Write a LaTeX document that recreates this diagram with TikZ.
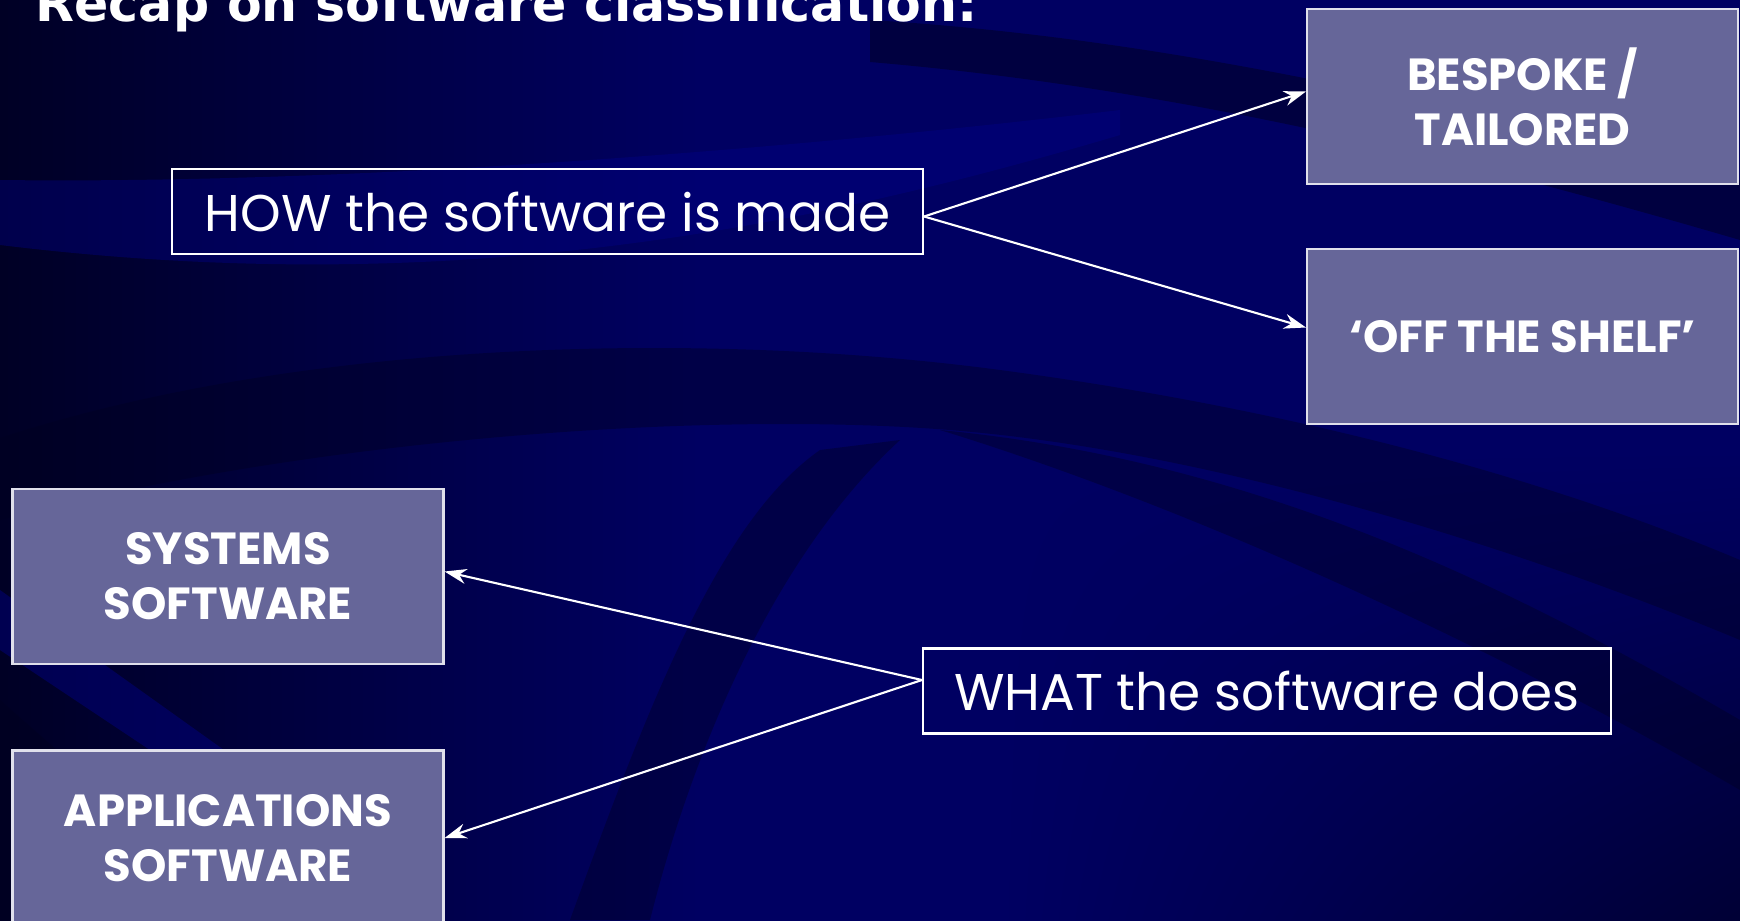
\documentclass[tikz,border=0pt]{standalone}
\usepackage{fontspec}
\setmainfont{Poppins}
\newfontfamily\headfont{DejaVu Sans}
\usetikzlibrary{arrows.meta,positioning,shapes,shadings,calc}
\definecolor{boxfill}{HTML}{666699}
\definecolor{navydark}{HTML}{000024}
\definecolor{navy}{HTML}{000062}
\definecolor{navylight}{HTML}{000088}
\definecolor{navydeep}{HTML}{000020}

\begin{document}
\begin{tikzpicture}[x=0.1mm,y=-0.1mm,
    solidbox/.style={rectangle, draw=white!80!boxfill, line width=0.6pt, fill=boxfill, text=white,
      font=\fontsize{12.8}{15.6}\selectfont\bfseries, align=center, minimum width=43.1mm, minimum height=17.5mm},
    plainbox/.style={rectangle, draw=white, line width=0.6pt, text=white,
      font=\fontsize{14.7}{17}\selectfont, align=center, minimum height=8.5mm},
    link/.style={draw=white, line width=0.6pt, -{Stealth[length=2.2mm,width=1.5mm]}}]
    % backdrop: navy slide with dark and light swooshes
    \useasboundingbox (0,0) rectangle (1740,920);
    \fill[navy] (-10,-10) rectangle (1750,930);
    \shade[left color=navydark, right color=navy] (-10,-10) rectangle (700,930);
    \shade[upper left=navy, upper right=navy, lower left=navy, lower right=navydeep!70!navy] (1000,450) rectangle (1750,930);
    \fill[navylight, opacity=0.4] (0,180) .. controls (400,185) and (870,140) .. (1120,110) -- (1120,135) .. controls (800,230) and (450,300) .. (0,245) -- cycle;
    \fill[navydeep, opacity=0.5] (870,20) .. controls (1200,40) and (1500,120) .. (1740,180) -- (1740,240) .. controls (1500,170) and (1200,90) .. (870,62) -- cycle;
    \fill[navydeep, opacity=0.4] (0,438) .. controls (300,340) and (700,330) .. (1000,370) .. controls (1300,410) and (1550,480) .. (1740,560) -- (1740,640) .. controls (1500,540) and (1200,450) .. (950,430) .. controls (700,410) and (300,440) .. (0,520) -- cycle;
    \fill[navydeep, opacity=0.4] (940,430) .. controls (1250,460) and (1500,580) .. (1740,720) -- (1740,790) .. controls (1500,650) and (1200,510) .. (940,430) -- cycle;
    \fill[navylight, opacity=0.45] (0,590) -- (0,650) -- (210,790) -- (280,790) -- cycle;
    \fill[navydeep, opacity=0.55] (0,700) -- (250,920) -- (0,920) -- cycle;
    \fill[navydeep, opacity=0.4] (570,920) .. controls (650,700) and (720,520) .. (820,450) -- (900,440) .. controls (770,560) and (690,760) .. (650,920) -- cycle;

    % heading
    \node (title) at (35,22) [anchor=base west, inner sep=0pt, text=white, font=\headfont\fontsize{14.4}{17}\selectfont\bfseries] {Recap on software classification:};

    % the two questions
    \node (how) at (547.5,211.5) [plainbox, minimum width=75.1mm] {HOW the software is made};
    \node (what) at (1267,691) [plainbox, minimum width=68.8mm] {WHAT the software does};

    % the four kinds
    \node (bespoke) at (1522.5,96.5) [solidbox] {BESPOKE /\\TAILORED};
    \node (shelf) at (1522.5,336.5) [solidbox] {`OFF THE SHELF'};
    \node (systems) at (228,576.5) [solidbox] {SYSTEMS\\SOFTWARE};
    \node (apps) at (228,838) [solidbox] {APPLICATIONS\\SOFTWARE};

    \draw[link] ($(how.east)+(0,5)$) -- ($(bespoke.west)+(0,-5)$);
    \draw[link] ($(how.east)+(0,5)$) -- ($(shelf.west)+(0,-9)$);
    \draw[link] ($(what.west)+(0,-11)$) -- ($(systems.east)+(0,-5)$);
    \draw[link] ($(what.west)+(0,-11)$) -- (apps.east);
\end{tikzpicture}
\end{document}
